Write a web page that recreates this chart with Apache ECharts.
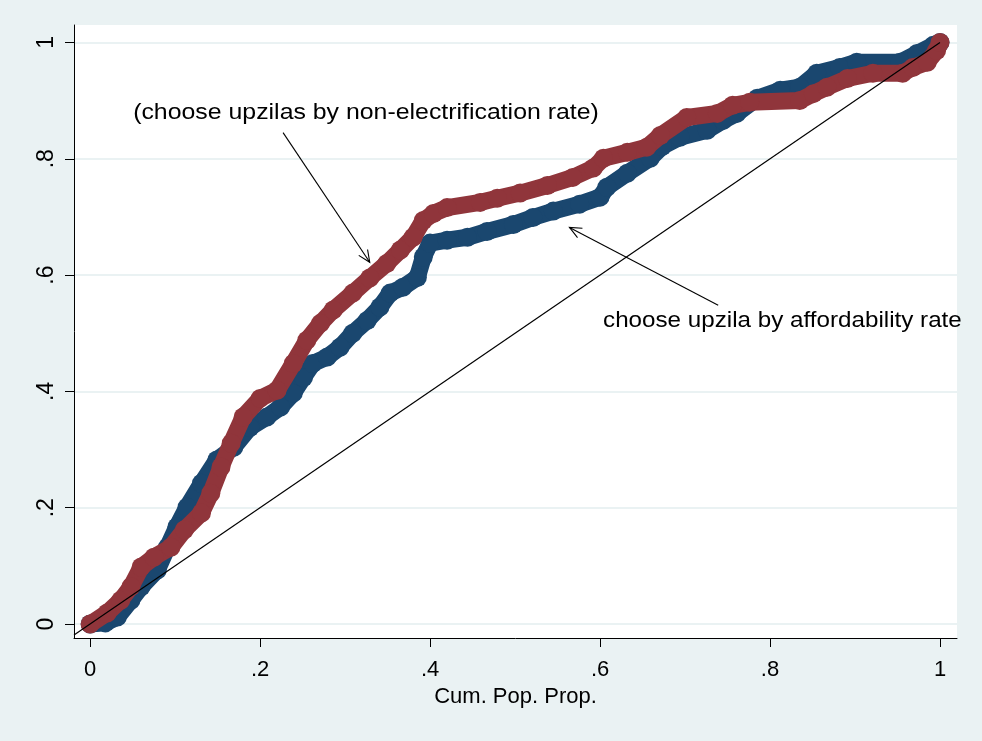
<!DOCTYPE html>
<html lang="en">
<head>
    <meta charset="UTF-8">
    <title>Cum. Pop. Prop.</title>
    <script src="https://cdn.jsdelivr.net/npm/echarts@6.0.0/dist/echarts.min.js"></script>
    <style>
        html, body {
            margin: 0;
            padding: 0;
            background: #EAF2F3;
        }
        #chart {
            width: 982px;
            height: 741px;
        }
    </style>
</head>
<body>
<div id="chart"></div>
<script>
// curve: choose upzila by affordability rate  [cum. pop. prop., cum. share]
const affordData = [
    [0, 0], [0.018, 0.002], [0.032, 0.012], [0.048, 0.041], [0.060, 0.064],
    [0.079, 0.093], [0.091, 0.132], [0.102, 0.167], [0.114, 0.201], [0.131, 0.242],
    [0.149, 0.282], [0.169, 0.304], [0.188, 0.338], [0.208, 0.356], [0.224, 0.373],
    [0.239, 0.397], [0.251, 0.424], [0.262, 0.448], [0.279, 0.459], [0.294, 0.476],
    [0.309, 0.500], [0.326, 0.522], [0.341, 0.545], [0.353, 0.569], [0.368, 0.579],
    [0.385, 0.596], [0.392, 0.631], [0.400, 0.655], [0.420, 0.660], [0.444, 0.665],
    [0.467, 0.675], [0.498, 0.687], [0.521, 0.699], [0.545, 0.710], [0.576, 0.722],
    [0.600, 0.734], [0.608, 0.751], [0.632, 0.775], [0.659, 0.801], [0.673, 0.821],
    [0.694, 0.837], [0.726, 0.849], [0.745, 0.866], [0.761, 0.878], [0.785, 0.904],
    [0.812, 0.918], [0.835, 0.923], [0.855, 0.947], [0.882, 0.957], [0.902, 0.966],
    [0.953, 0.966], [0.973, 0.981], [0.992, 0.995], [1, 1]
];

// curve: choose upzilas by non-electrification rate
const nonElecData = [
    [0, 0], [0.020, 0.019], [0.036, 0.041], [0.048, 0.064], [0.060, 0.098],
    [0.075, 0.115], [0.095, 0.132], [0.111, 0.162], [0.131, 0.191], [0.142, 0.225],
    [0.154, 0.270], [0.166, 0.311], [0.180, 0.356], [0.200, 0.388], [0.220, 0.402],
    [0.239, 0.448], [0.255, 0.488], [0.271, 0.517], [0.286, 0.540], [0.309, 0.569],
    [0.329, 0.595], [0.349, 0.620], [0.365, 0.643], [0.380, 0.665], [0.392, 0.694],
    [0.404, 0.706], [0.420, 0.716], [0.459, 0.725], [0.479, 0.732], [0.506, 0.741],
    [0.538, 0.754], [0.568, 0.768], [0.592, 0.784], [0.604, 0.801], [0.632, 0.811],
    [0.655, 0.820], [0.671, 0.840], [0.702, 0.871], [0.738, 0.878], [0.756, 0.892],
    [0.776, 0.897], [0.835, 0.900], [0.851, 0.912], [0.867, 0.923], [0.891, 0.938],
    [0.921, 0.947], [0.956, 0.947], [0.968, 0.957], [0.985, 0.966], [0.996, 0.986],
    [1, 1]
];

// 45 degree line
const equalityData = [[-0.019, -0.019], [1, 1]];

const tickValues = [0, 0.2, 0.4, 0.6, 0.8, 1];
const tickLabels = ['0', '.2', '.4', '.6', '.8', '1'];

// annotations: text anchor and arrow (tail x, tail y, tip x, tip y)
const noteTexts = ['(choose upzilas by non-electrification rate)', 'choose upzila by affordability rate'];
const noteTextPos = [[0.0506, 0.878], [0.6035, 0.522]];
const noteArrows = [[0.227, 0.845, 0.329, 0.622], [0.739, 0.548, 0.564, 0.682]];

const FONT = "'Liberation Sans', Arial, sans-serif";
// the original text is a bit wider than Liberation Sans
const noteStretch = [1.13, 1.10];

function tickLabel(v) {
    const i = tickValues.findIndex(t => Math.abs(t - v) < 1e-6);
    return i >= 0 ? tickLabels[i] : '';
}

function renderArrow(params, api) {
    const p1 = api.coord([api.value(0), api.value(1)]);
    const p2 = api.coord([api.value(2), api.value(3)]);
    const ang = Math.atan2(p2[1] - p1[1], p2[0] - p1[0]);
    const len = 13, spread = 0.42;
    const h1 = [p2[0] - len * Math.cos(ang - spread), p2[1] - len * Math.sin(ang - spread)];
    const h2 = [p2[0] - len * Math.cos(ang + spread), p2[1] - len * Math.sin(ang + spread)];
    const style = { stroke: '#000', lineWidth: 1.1, fill: null };
    return {
        type: 'group',
        children: [
            { type: 'line', shape: { x1: p1[0], y1: p1[1], x2: p2[0], y2: p2[1] }, style: style },
            { type: 'polyline', shape: { points: [h1, p2, h2] }, style: style }
        ]
    };
}

function renderNote(params, api) {
    const p = api.coord([api.value(0), api.value(1)]);
    return {
        type: 'text',
        x: p[0],
        y: p[1],
        scaleX: noteStretch[params.dataIndex],
        style: {
            text: noteTexts[params.dataIndex],
            fontSize: 22,
            fontFamily: FONT,
            fill: '#000',
            align: 'left',
            verticalAlign: 'middle'
        }
    };
}

const chart = echarts.init(document.getElementById('chart'));
chart.setOption({
    animation: false,
    backgroundColor: '#EAF2F3',
    textStyle: { fontFamily: FONT },
    grid: {
        left: 74,
        right: 25,
        top: 25,
        bottom: 103,
        show: true,
        backgroundColor: '#ffffff',
        borderWidth: 0
    },
    xAxis: {
        type: 'value',
        min: -0.019,
        max: 1.02,
        name: 'Cum. Pop. Prop.',
        nameLocation: 'middle',
        nameGap: 47,
        nameTextStyle: { fontSize: 22, color: '#000', fontFamily: FONT },
        axisLine: { show: true, onZero: false, lineStyle: { color: '#000', width: 1 } },
        axisTick: { show: true, length: 9, customValues: tickValues, lineStyle: { color: '#000' } },
        axisLabel: {
            customValues: tickValues,
            formatter: tickLabel,
            fontSize: 22,
            color: '#000',
            margin: 21,
            fontFamily: FONT
        },
        splitLine: { show: false }
    },
    yAxis: {
        type: 'value',
        min: -0.024,
        max: 1.03,
        axisLine: { show: true, onZero: false, lineStyle: { color: '#000', width: 1 } },
        axisTick: { show: true, length: 9, customValues: tickValues, lineStyle: { color: '#000' } },
        axisLabel: {
            customValues: tickValues,
            formatter: tickLabel,
            rotate: 90,
            fontSize: 23,
            color: '#000',
            margin: 16,
            fontFamily: FONT
        },
        splitLine: { show: true, lineStyle: { color: '#EAF2F3', width: 2 } }
    },
    series: [
        {
            name: 'choose upzila by affordability rate',
            type: 'line',
            data: affordData,
            symbol: 'circle',
            symbolSize: 19,
            itemStyle: { color: '#1A476F' },
            lineStyle: { color: '#1A476F', width: 17, join: 'round', cap: 'round' },
            z: 2
        },
        {
            name: 'choose upzilas by non-electrification rate',
            type: 'line',
            data: nonElecData,
            symbol: 'circle',
            symbolSize: 19,
            itemStyle: { color: '#90353B' },
            lineStyle: { color: '#90353B', width: 17, join: 'round', cap: 'round' },
            z: 3
        },
        {
            type: 'line',
            data: equalityData,
            symbol: 'none',
            lineStyle: { color: '#000', width: 1.2 },
            z: 4
        },
        {
            type: 'custom',
            renderItem: renderArrow,
            data: noteArrows,
            encode: { x: [0, 2], y: [1, 3] },
            clip: false,
            z: 5
        },
        {
            type: 'custom',
            renderItem: renderNote,
            data: noteTextPos,
            encode: { x: 0, y: 1 },
            clip: false,
            z: 5
        }
    ]
});
</script>
</body>
</html>
